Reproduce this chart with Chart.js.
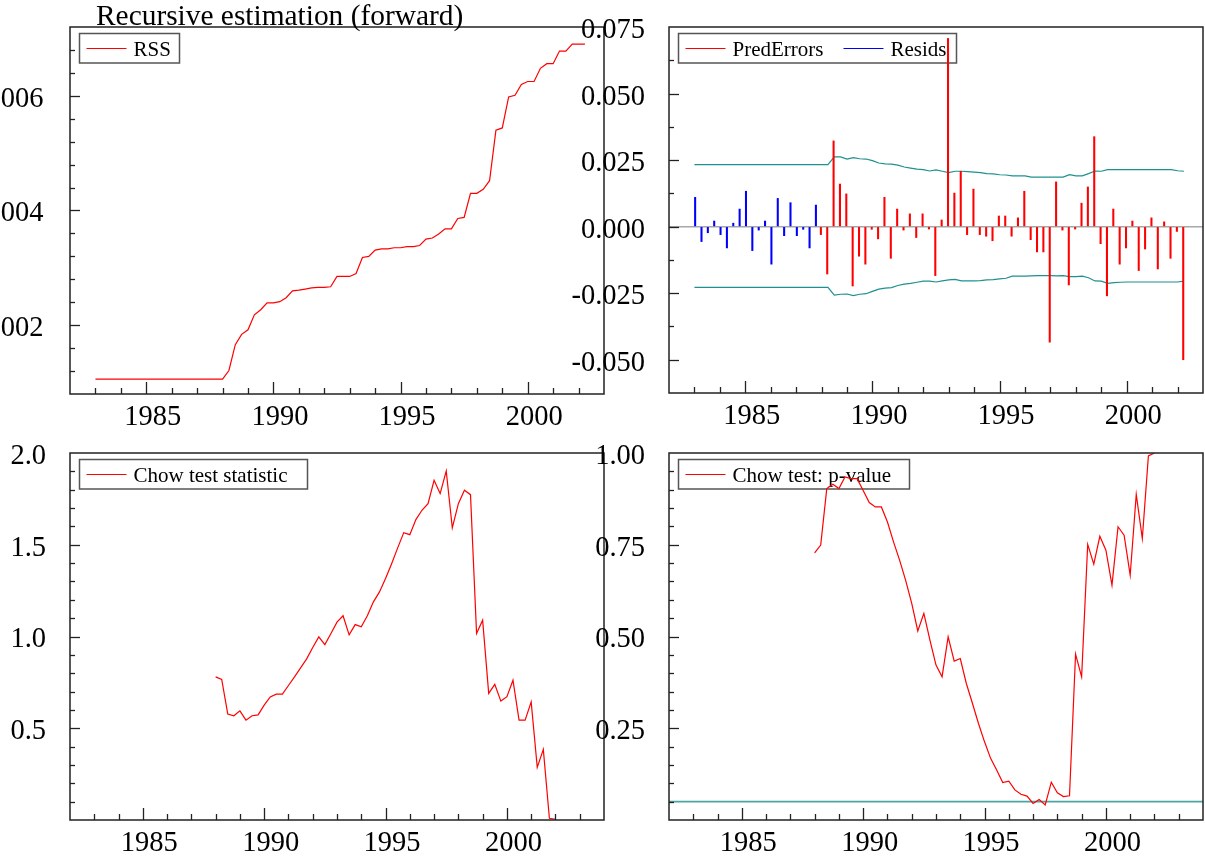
<!DOCTYPE html>
<html><head><meta charset="utf-8">
<script src="https://cdn.jsdelivr.net/npm/chart.js@4.4.1/dist/chart.umd.min.js"></script>
<style>
html,body{margin:0;padding:0;background:#fff;width:1205px;height:859px;overflow:hidden;position:relative;}
canvas{position:absolute;}
#title{position:absolute;left:96px;top:1px;font-size:29.4px;font-family:'Liberation Serif','Times New Roman',serif;line-height:1;color:#000;white-space:nowrap;z-index:5;}
</style></head><body>
<div id="title">Recursive estimation (forward)</div>
<canvas id="c1" width="606" height="430" style="left:0;top:0;width:606px;height:430px"></canvas>
<canvas id="c2" width="655" height="430" style="left:550px;top:0;width:655px;height:430px"></canvas>
<canvas id="c3" width="606" height="429" style="left:0;top:430px;width:606px;height:429px"></canvas>
<canvas id="c4" width="655" height="429" style="left:550px;top:430px;width:655px;height:429px"></canvas>
<script>
// ---------- DATA ----------
const periods = [
 "1983Q1","1983Q2","1983Q3","1983Q4","1984Q1","1984Q2","1984Q3","1984Q4",
 "1985Q1","1985Q2","1985Q3","1985Q4","1986Q1","1986Q2","1986Q3","1986Q4",
 "1987Q1","1987Q2","1987Q3","1987Q4","1988Q1","1988Q2","1988Q3","1988Q4",
 "1989Q1","1989Q2","1989Q3","1989Q4","1990Q1","1990Q2","1990Q3","1990Q4",
 "1991Q1","1991Q2","1991Q3","1991Q4","1992Q1","1992Q2","1992Q3","1992Q4",
 "1993Q1","1993Q2","1993Q3","1993Q4","1994Q1","1994Q2","1994Q3","1994Q4",
 "1995Q1","1995Q2","1995Q3","1995Q4","1996Q1","1996Q2","1996Q3","1996Q4",
 "1997Q1","1997Q2","1997Q3","1997Q4","1998Q1","1998Q2","1998Q3","1998Q4",
 "1999Q1","1999Q2","1999Q3","1999Q4","2000Q1","2000Q2","2000Q3","2000Q4",
 "2001Q1","2001Q2","2001Q3","2001Q4","2002Q1","2002Q2"];

// Recursive RSS (1983Q1 - 2002Q2)
const rss = [
 0.00106,0.00106,0.00106,0.00106,0.00106,0.00106,0.00106,0.00106,0.00106,0.00106,
 0.00106,0.00106,0.00106,0.00106,0.00106,0.00106,0.00106,0.00106,0.00106,0.00106,
 0.00106,0.00121,0.00166,0.00184,0.00192,0.00218,0.00227,0.00239,0.00239,0.00241,
 0.00248,0.00260,0.00261,0.00263,0.00265,0.00266,0.00266,0.00267,0.00285,0.00285,
 0.00285,0.00290,0.00318,0.00320,0.00331,0.00333,0.00333,0.00335,0.00335,0.00337,
 0.00337,0.00339,0.00350,0.00352,0.00359,0.00368,0.00368,0.00386,0.00388,0.00430,
 0.00430,0.00437,0.00452,0.00540,0.00544,0.00598,0.00601,0.00620,0.00625,0.00625,
 0.00648,0.00656,0.00656,0.00678,0.00678,0.00690,0.00690,0.00690];

// Residuals in the initial sample (1983Q1 - 1987Q4)
const resids = [0.0110,-0.0056,-0.0023,0.0021,-0.0030,-0.0080,0.0013,0.0066,0.0133,-0.0090,
 -0.0013,0.0021,-0.0141,0.0106,-0.0034,0.0090,-0.0034,-0.0010,-0.0080,0.0081];

// 1-step prediction errors (1988Q1 - 2002Q2)
const predErrors = [
 -0.0030,-0.0178,0.0322,0.0160,0.0123,-0.0223,-0.0111,-0.0141,-0.0010,-0.0046,
 0.0110,-0.0119,0.0066,-0.0013,0.0048,-0.0041,0.0048,-0.0009,-0.0184,0.0025,
 0.0707,0.0126,0.0208,-0.0030,0.0141,-0.0030,-0.0036,-0.0053,0.0040,0.0040,
 -0.0036,0.0033,0.0133,-0.0049,-0.0095,-0.0095,-0.0434,0.0168,-0.0013,-0.0219,
 -0.0009,0.0088,0.0149,0.0338,-0.0064,-0.0260,0.0066,-0.0141,-0.0080,0.0021,
 -0.0165,-0.0084,0.0033,-0.0159,0.0018,-0.0119,-0.0018,-0.0500];

// +/- 2 s.e. bands (1983Q1 - 2002Q2)
const bandUpper = [
 0.0233,0.0233,0.0233,0.0233,0.0233,0.0233,0.0233,0.0233,0.0233,0.0233,
 0.0233,0.0233,0.0233,0.0233,0.0233,0.0233,0.0233,0.0233,0.0233,0.0233,
 0.0233,0.0233,0.0262,0.0262,0.0254,0.0259,0.0255,0.0254,0.0248,0.0239,
 0.0236,0.0235,0.0231,0.0224,0.0220,0.0216,0.0214,0.0209,0.0213,0.0208,
 0.0203,0.0208,0.0208,0.0207,0.0205,0.0203,0.0199,0.0198,0.0195,0.0194,
 0.0191,0.0191,0.0191,0.0186,0.0186,0.0186,0.0186,0.0186,0.0186,0.0195,
 0.0191,0.0191,0.0199,0.0209,0.0208,0.0214,0.0214,0.0214,0.0214,0.0214,
 0.0214,0.0214,0.0214,0.0214,0.0214,0.0214,0.0210,0.0208];
const bandLower = [
 -0.0228,-0.0228,-0.0228,-0.0228,-0.0228,-0.0228,-0.0228,-0.0228,-0.0228,-0.0228,
 -0.0228,-0.0228,-0.0228,-0.0228,-0.0228,-0.0228,-0.0228,-0.0228,-0.0228,-0.0228,
 -0.0228,-0.0228,-0.0257,-0.0254,-0.0253,-0.0259,-0.0254,-0.0252,-0.0243,-0.0235,
 -0.0231,-0.0229,-0.0221,-0.0216,-0.0213,-0.0209,-0.0205,-0.0205,-0.0208,-0.0204,
 -0.0200,-0.0198,-0.0204,-0.0204,-0.0204,-0.0203,-0.0200,-0.0199,-0.0196,-0.0194,
 -0.0186,-0.0186,-0.0186,-0.0185,-0.0184,-0.0184,-0.0184,-0.0185,-0.0184,-0.0188,
 -0.0188,-0.0186,-0.0192,-0.0204,-0.0205,-0.0213,-0.0210,-0.0209,-0.0208,-0.0208,
 -0.0208,-0.0208,-0.0208,-0.0208,-0.0208,-0.0208,-0.0208,-0.0205];

// Break-point Chow test (1988Q1 - 2002Q1)
const chowStat = [
 0.780,0.766,0.577,0.568,0.595,0.544,0.568,0.573,0.626,0.671,
 0.686,0.686,0.733,0.780,0.829,0.878,0.940,0.998,0.956,1.016,
 1.078,1.113,1.009,1.065,1.053,1.113,1.189,1.243,1.316,1.397,
 1.483,1.566,1.555,1.637,1.688,1.724,1.851,1.779,1.902,1.592,
 1.724,1.797,1.773,1.016,1.089,0.690,0.739,0.648,0.672,0.762,
 0.544,0.544,0.644,0.287,0.385,0.009,0.004];
const chowPValue = [
 0.728,0.749,0.903,0.915,0.903,0.935,0.930,0.930,0.898,0.865,
 0.853,0.853,0.812,0.758,0.708,0.653,0.590,0.515,0.563,0.490,
 0.422,0.390,0.499,0.433,0.440,0.372,0.318,0.263,0.213,0.168,
 0.136,0.102,0.106,0.082,0.070,0.065,0.045,0.056,0.041,0.103,
 0.074,0.064,0.066,0.452,0.390,0.751,0.697,0.773,0.735,0.640,
 0.799,0.776,0.667,0.887,0.767,0.992,1.000];
const critLevel = 0.05;

// Tick labels
const xTickLabels = [1985, 1990, 1995, 2000];
const rssTickLabels = [0.002, 0.004, 0.006];
const errTickLabels = [-0.050, -0.025, 0.000, 0.025, 0.050, 0.075];
const chowTickLabels = [0.5, 1.0, 1.5, 2.0];
const pvalTickLabels = [0.25, 0.50, 0.75, 1.00];

// ---------- HELPERS ----------
const FONT = "'Liberation Serif','Times New Roman',serif";
const RED = '#ff0000', BLUE = '#0000ff', TEAL = '#1f9090';
const toX = p => +p.slice(0, 4) + (+p.slice(5) - 1) / 4;
const xy = (arr, offset) => arr.map((v, i) => ({x: toX(periods[offset + i]), y: v}));
const range = (a, b, s) => { const r = []; for (let k = 0; a + k * s <= b + s * 1e-6; k++) r.push(+(a + k * s).toFixed(6)); return r; };

const panelPlugin = {
  id: 'panel',
  beforeDatasetsDraw(chart, args, o) {
    const {ctx, chartArea: a} = chart;
    ctx.save();
    const bx = a.left + 9.5, by = a.top + 6.5, bh = 29.5;
    ctx.strokeStyle = '#555'; ctx.lineWidth = 1.5;
    ctx.strokeRect(bx, by, o.legendWidth, bh);
    ctx.font = '21px ' + FONT; ctx.textBaseline = 'middle'; ctx.textAlign = 'left';
    let x = bx + 7;
    chart.data.datasets.filter(d => d.inLegend).forEach(d => {
      ctx.strokeStyle = d.borderColor; ctx.lineWidth = 1.2;
      ctx.beginPath(); ctx.moveTo(x, by + 15); ctx.lineTo(x + 40, by + 15); ctx.stroke();
      ctx.fillStyle = '#000';
      ctx.fillText(d.label, x + 47, by + 16.7);
      x = x + 47 + ctx.measureText(d.label).width + 20;
    });
    ctx.restore();
  },
  afterDraw(chart, args, o) {
    const {ctx, chartArea: a} = chart;
    const xs = chart.scales.x, ys = chart.scales.y;
    ctx.save();
    ctx.strokeStyle = '#222'; ctx.lineWidth = 1.3;
    const seg = (x1, y1, x2, y2) => { ctx.beginPath(); ctx.moveTo(x1, y1); ctx.lineTo(x2, y2); ctx.stroke(); };
    o.xMinor.forEach(v => { const p = Math.round(xs.getPixelForValue(v)) + 0.5; seg(p, a.bottom, p, a.bottom - (o.xMajor.includes(v) ? 12 : 6)); });
    o.yMinor.forEach(v => { const p = Math.round(ys.getPixelForValue(v)) + 0.5; const maj = o.yMajor.some(m => Math.abs(m - v) < 1e-9); seg(a.left, p, a.left + (maj ? 10 : 5), p); });
    ctx.strokeStyle = '#222'; ctx.lineWidth = 1.5;
    ctx.strokeRect(a.left, a.top, a.right - a.left, a.bottom - a.top);
    ctx.restore();
  }
};

const noPad = s => { s.paddingTop = 0; s.paddingBottom = 0; s.paddingLeft = 0; s.paddingRight = 0; };

function makeChart(id, datasets, p) {
  return new Chart(document.getElementById(id), {
    type: 'line',
    data: {datasets},
    plugins: [panelPlugin],
    options: {
      responsive: false, animation: false, devicePixelRatio: 1,
      layout: {padding: {top: p.padTop, right: 2, left: 0, bottom: 0}},
      plugins: {legend: {display: false}, tooltip: {enabled: false},
        panel: {legendWidth: p.legendWidth, xMinor: p.xMinor, xMajor: xTickLabels, yMinor: p.yMinor, yMajor: p.yTicks}},
      elements: {point: {radius: 0}, line: {tension: 0}},
      scales: {
        x: {type: 'linear', min: p.xMin, max: p.xMax, offset: false,
          afterBuildTicks: s => { s.ticks = xTickLabels.map(v => ({value: v})); },
          afterFit: s => { s.height = p.xHeight; noPad(s); },
          grid: {display: false, drawTicks: false, offset: false}, border: {display: false},
          ticks: {font: {family: FONT, size: 28.5}, color: '#000', padding: 6, labelOffset: 6.5,
            maxRotation: 0, autoSkip: false, callback: v => String(v)}},
        y: {type: 'linear', min: p.yMin, max: p.yMax,
          afterBuildTicks: s => { s.ticks = p.yTicks.map(v => ({value: v})); },
          afterFit: s => { s.width = p.yWidth; noPad(s); },
          grid: p.zeroLine ? {display: true, drawTicks: false, lineWidth: 1.5,
              color: c => (c.tick && Math.abs(c.tick.value) < 1e-12) ? '#a8a8a8' : 'rgba(0,0,0,0)'}
            : {display: false, drawTicks: false},
          border: {display: false},
          ticks: {font: {family: FONT, size: 28.5}, color: '#000', padding: p.yPad || 24, labelOffset: 3.5,
            autoSkip: false, callback: v => v.toFixed(p.dec)}}
      }
    }
  });
}

const lineDs = (label, data, color, inLegend, w) => ({type: 'line', label, data, borderColor: color, backgroundColor: color,
  borderWidth: w || 1.2, pointRadius: 0, fill: false, inLegend});
const barDs = (label, data, color) => ({type: 'bar', label, data, borderColor: color, backgroundColor: color,
  borderWidth: 0, barThickness: 1.4, inLegend: true});

// Top-left: RSS
makeChart('c1', [lineDs('RSS', xy(rss, 0), RED, true)], {
  padTop: 27, xHeight: 36, yWidth: 70, yPad: 26.5, xMin: 1982, xMax: 2003,
  yMin: 0.0008, yMax: 0.0072, yTicks: rssTickLabels, dec: 3,
  yMinor: range(0.0012, 0.0068, 0.0004), xMinor: range(1983, 2002, 1), legendWidth: 100});

// Top-right: prediction errors / residuals with bands
makeChart('c2', [
  barDs('PredErrors', xy(predErrors, 20), RED),
  barDs('Resids', xy(resids, 0), BLUE),
  lineDs('+2se', xy(bandUpper, 0), TEAL, false),
  lineDs('-2se', xy(bandLower, 0), TEAL, false)], {
  padTop: 27, xHeight: 37, yWidth: 119, xMin: 1982, xMax: 2003,
  yMin: -0.0625, yMax: 0.075, yTicks: errTickLabels, dec: 3, zeroLine: true,
  yMinor: range(-0.05, 0.0625, 0.0125), xMinor: range(1983, 2002, 1), legendWidth: 278});

// Bottom-left: Chow test statistic
makeChart('c3', [lineDs('Chow test statistic', xy(chowStat, 20), RED, true)], {
  padTop: 23, xHeight: 39, yWidth: 70, xMin: 1982, xMax: 2004,
  yMin: 0, yMax: 2, yTicks: chowTickLabels, dec: 1,
  yMinor: range(0.1, 1.9, 0.1), xMinor: range(1983, 2003, 1), legendWidth: 228});

// Bottom-right: Chow p-value
makeChart('c4', [
  lineDs('Chow test: p-value', xy(chowPValue, 20), RED, true),
  lineDs('5%', [{x: 1982, y: critLevel}, {x: 2004, y: critLevel}], '#4aa5a5', false, 1.6)], {
  padTop: 23, xHeight: 39, yWidth: 119, xMin: 1982, xMax: 2004,
  yMin: 0, yMax: 1, yTicks: pvalTickLabels, dec: 2,
  yMinor: range(0.05, 0.95, 0.05), xMinor: range(1983, 2003, 1), legendWidth: 231});
</script>
</body></html>
